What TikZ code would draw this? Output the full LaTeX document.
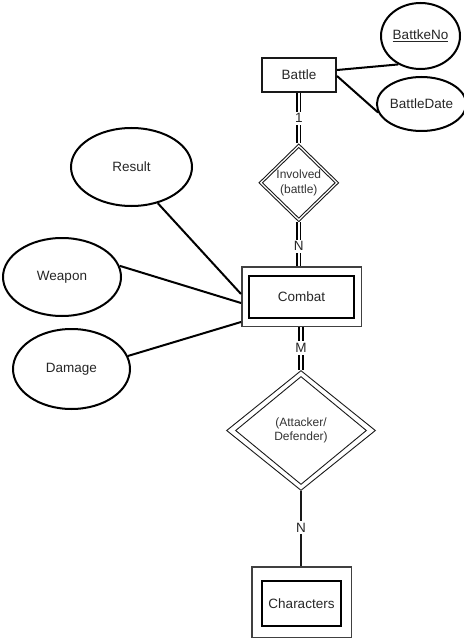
\documentclass[tikz,border=0pt]{standalone}
\usepackage{fontspec}
\setmainfont{Liberation Sans}
\usetikzlibrary{shapes.geometric}
\begin{document}
\begin{tikzpicture}[x=1pt,y=-1pt,
 txt/.style={font=\fontsize{13.5}{16}\selectfont, text=black!85},
 stxt/.style={font=\fontsize{12}{14.5}\selectfont, text=black!80, align=center},
 attr/.style={ellipse, draw=black, line width=2pt, inner sep=0pt, txt},
 entity/.style={rectangle, draw=black!90, line width=2pt, inner sep=0pt, txt},
 wouter/.style={rectangle, draw=black!75, line width=1.5pt, inner sep=0pt},
 winner/.style={rectangle, draw=black, line width=2pt, inner sep=0pt, txt},
 rel/.style={diamond, draw=black!90, line width=0.9pt, inner sep=0pt, aspect=1},
 conn/.style={draw=black, line width=2pt},
 sconn/.style={draw=black!90, line width=1.5pt},
 dconn/.style={draw=black, double=white, double distance=2.2pt, line width=1.5pt},
 card/.style={fill=white, inner xsep=1pt, inner ysep=2pt, txt},
]
\useasboundingbox (0,0) rectangle (463,639);

% attributes
\node[attr, minimum width=79pt, minimum height=66pt] (bno) at (420.5,36) {\underline{BattkeNo}};
\node[attr, minimum width=79pt, minimum height=54pt] (bdate) at (421.5,104) {BattleDate};
\node[attr, minimum width=121pt, minimum height=78pt] (res) at (131.5,167) {Result};
\node[attr, minimum width=118pt, minimum height=78pt] (wea) at (62,277) {Weapon};
\node[attr, minimum width=117pt, minimum height=80pt] (dam) at (71.5,369) {Damage};

% entities
\node[entity, minimum width=74pt, minimum height=34pt] (battle) at (299,75) {Battle};
\node[wouter, minimum width=119.5pt, minimum height=59.5pt] (combat) at (301.5,296.5) {};
\node[winner, minimum width=105pt, minimum height=42pt] (combati) at (301.5,297) {Combat};
\node[wouter, minimum width=99.5pt, minimum height=70.5pt] (chars) at (301.5,602) {};
\node[winner, minimum width=79pt, minimum height=45pt] (charsi) at (301.5,603.5) {Characters};

% relationships
\node[rel, minimum width=80pt, minimum height=78pt, stxt] (inv) at (298.8,182.8) {Involved\\(battle)};
\node[rel, minimum width=73pt, minimum height=71pt] (invi) at (298.8,182.8) {};
\node[rel, minimum width=149pt, minimum height=120pt, stxt] (att) at (301,430.5) {(Attacker/\\Defender)};
\node[rel, minimum width=131pt, minimum height=108pt] (atti) at (301,430.5) {};

% connectors
\draw[conn] ([yshift=5pt]battle.east) -- (bno.232);
\draw[conn] ([yshift=-1pt]battle.east) -- (bdate.191.4);
\draw[conn] (res.306.6) -- ([yshift=2.5pt]combat.west);
\draw[conn] (wea.11.7) -- ([yshift=-6.5pt]combat.west);
\draw[conn] (dam.13.5) -- ([yshift=-25.5pt]combat.west);

\draw[dconn] (battle.south -| inv.north) -- node[card, pos=0.5] (c1) {1} (inv.north);
\draw[dconn] (inv.south) -- node[card, pos=0.55] (c2) {N} (inv.south |- combat.north);
\draw[dconn] (att.north |- combat.south) -- node[card, pos=0.49] (c3) {M} (att.north);
\draw[sconn] (att.south) -- node[card, pos=0.49] (c4) {N} (att.south |- chars.north);
\end{tikzpicture}
\end{document}
